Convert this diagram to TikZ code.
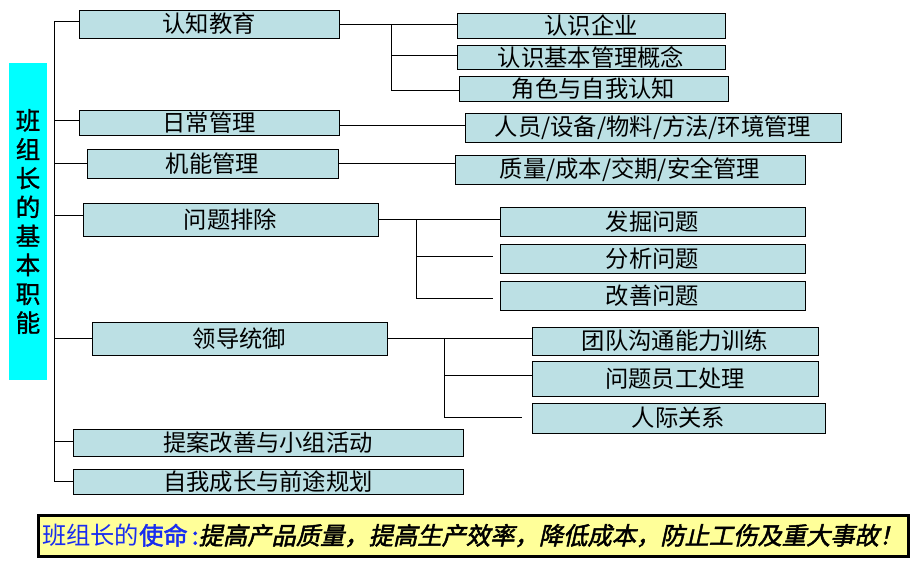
\documentclass[tikz,border=0pt]{standalone}
\usepackage{fontspec}
\setmainfont{Noto Sans CJK SC}
\newfontfamily\bannerb[FakeBold=2]{Noto Sans CJK SC}
\newfontfamily\bannerbi[FakeBold=2,FakeSlant=0.22]{Noto Sans CJK SC}
\newfontfamily\sidefont[FakeBold=1.2]{Noto Sans CJK SC}
\usetikzlibrary{calc}
\definecolor{boxfill}{RGB}{188,224,228}
\definecolor{sidecyan}{RGB}{0,255,255}
\definecolor{bannerfill}{RGB}{255,255,153}
\definecolor{bannerblue}{RGB}{25,45,240}
\begin{document}
\begin{tikzpicture}[x=1pt,y=-1pt,
  box/.style={draw=black,line width=1pt,fill=boxfill,inner sep=0pt,font=\fontsize{23.3}{23.3}\selectfont},
  conn/.style={draw=black,line width=1pt}]
\useasboundingbox (0,0) rectangle (911,568);
% side title
\node[fill=sidecyan,minimum width=38pt,minimum height=317pt,inner sep=0pt,align=center,
  font=\sidefont\fontsize{24.5}{28.9}\selectfont] (side) at (28,221.5) {班\\组\\长\\的\\基\\本\\职\\能};
% level 1
\node[box,minimum width=260pt,minimum height=28pt] (rz) at (209,24) {认知教育};
\node[box,minimum width=260pt,minimum height=25pt] (rc) at (209,122.5) {日常管理};
\node[box,minimum width=251pt,minimum height=29pt] (jn) at (212.5,163.5) {机能管理};
\node[box,minimum width=295pt,minimum height=33pt] (wt) at (230.5,219.5) {问题排除};
\node[box,minimum width=295pt,minimum height=33pt] (ld) at (239.5,338.5) {领导统御};
\node[box,minimum width=390pt,minimum height=27pt] (ta) at (268,442.5) {提案改善与小组活动};
\node[box,minimum width=390pt,minimum height=25pt] (zw) at (268,481.5) {自我成长与前途规划};
% level 2
\node[box,minimum width=268pt,minimum height=25pt] (rq) at (591,25.5) {认识企业};
\node[box,minimum width=268pt,minimum height=24pt] (jb) at (591,57) {认识基本管理概念};
\node[box,minimum width=269pt,minimum height=25pt] (js) at (593.5,88.5) {角色与自我认知};
\node[box,minimum width=376pt,minimum height=29pt] (ry) at (653,127.5) {人员/设备/物料/方法/环境管理};
\node[box,minimum width=350pt,minimum height=29pt] (zl) at (630,169.5) {质量/成本/交期/安全管理};
\node[box,minimum width=305pt,minimum height=29pt] (fj) at (652.5,221.5) {发掘问题};
\node[box,minimum width=305pt,minimum height=29pt] (fx) at (652.5,258.5) {分析问题};
\node[box,minimum width=305pt,minimum height=29pt] (gs) at (652.5,295.5) {改善问题};
\node[box,minimum width=286pt,minimum height=28pt] (td) at (675,341) {团队沟通能力训练};
\node[box,minimum width=286pt,minimum height=35pt] (yg) at (675,378.5) {问题员工处理};
\node[box,minimum width=293pt,minimum height=30pt] (rj) at (678.5,418) {人际关系};
% banner
\node[draw=black,line width=3pt,fill=bannerfill,text width=862pt,inner xsep=4pt,inner ysep=0pt,
  minimum height=41pt,align=left,font=\fontsize{24.3}{24.3}\selectfont] (banner) at (473,535.5)
  {{\color{bannerblue}班组长的{\bannerb 使命\,:}}{\bannerbi 提高产品质量，提高生产效率，降低成本，防止工伤及重大事故！}};
% trunk
\coordinate (T0) at (54,21);
\coordinate (T1) at (54,482);
\draw[conn] (T0) -- (T1);
\draw[conn] ([yshift=3pt]rz.west) -- (T0);
\draw[conn] ([yshift=2.5pt]rc.west) -- ([yshift=2.5pt]rc.west -| T0);
\draw[conn] (jn.west) -- (jn.west -| T0);
\draw[conn] ([yshift=4.5pt]wt.west) -- ([yshift=4.5pt]wt.west -| T0);
\draw[conn] (ld.west) -- (ld.west -| T0);
\draw[conn] ([yshift=1.5pt]ta.west) -- ([yshift=1.5pt]ta.west -| T0);
\draw[conn] (zw.west) -- (zw.west -| T0);
% 认知教育 branch
\draw[conn] (rz.east) -- (rz.east -| rq.west);
\coordinate (B1) at ($(rz.east)+(52,0)$);
\draw[conn] (B1) |- ([yshift=2pt]jb.west);
\draw[conn] (B1) |- ([yshift=-1.5pt]js.west);
% 日常管理, 机能管理
\draw[conn] ([yshift=-2.5pt]rc.east) -- ([yshift=-2.5pt]rc.east -| ry.west);
\draw[conn] (jn.east) -- (jn.east -| zl.west);
% 问题排除 branch
\draw[conn] (wt.east) -- (wt.east -| fj.west);
\coordinate (B2) at ($(wt.east)+(38,0)$);
\draw[conn] (B2) |- ([xshift=-7pt,yshift=2.5pt]fx.west);
\draw[conn] (B2) |- ([xshift=-7pt,yshift=-2.5pt]gs.west);
% 领导统御 branch
\draw[conn] (ld.east) -- (ld.east -| td.west);
\coordinate (B3) at ($(ld.east)+(57,0)$);
\draw[conn] (B3) |- ([yshift=3.5pt]yg.west);
\draw[conn] (B3) |- ([xshift=-10pt,yshift=1pt]rj.west);
\end{tikzpicture}
\end{document}
